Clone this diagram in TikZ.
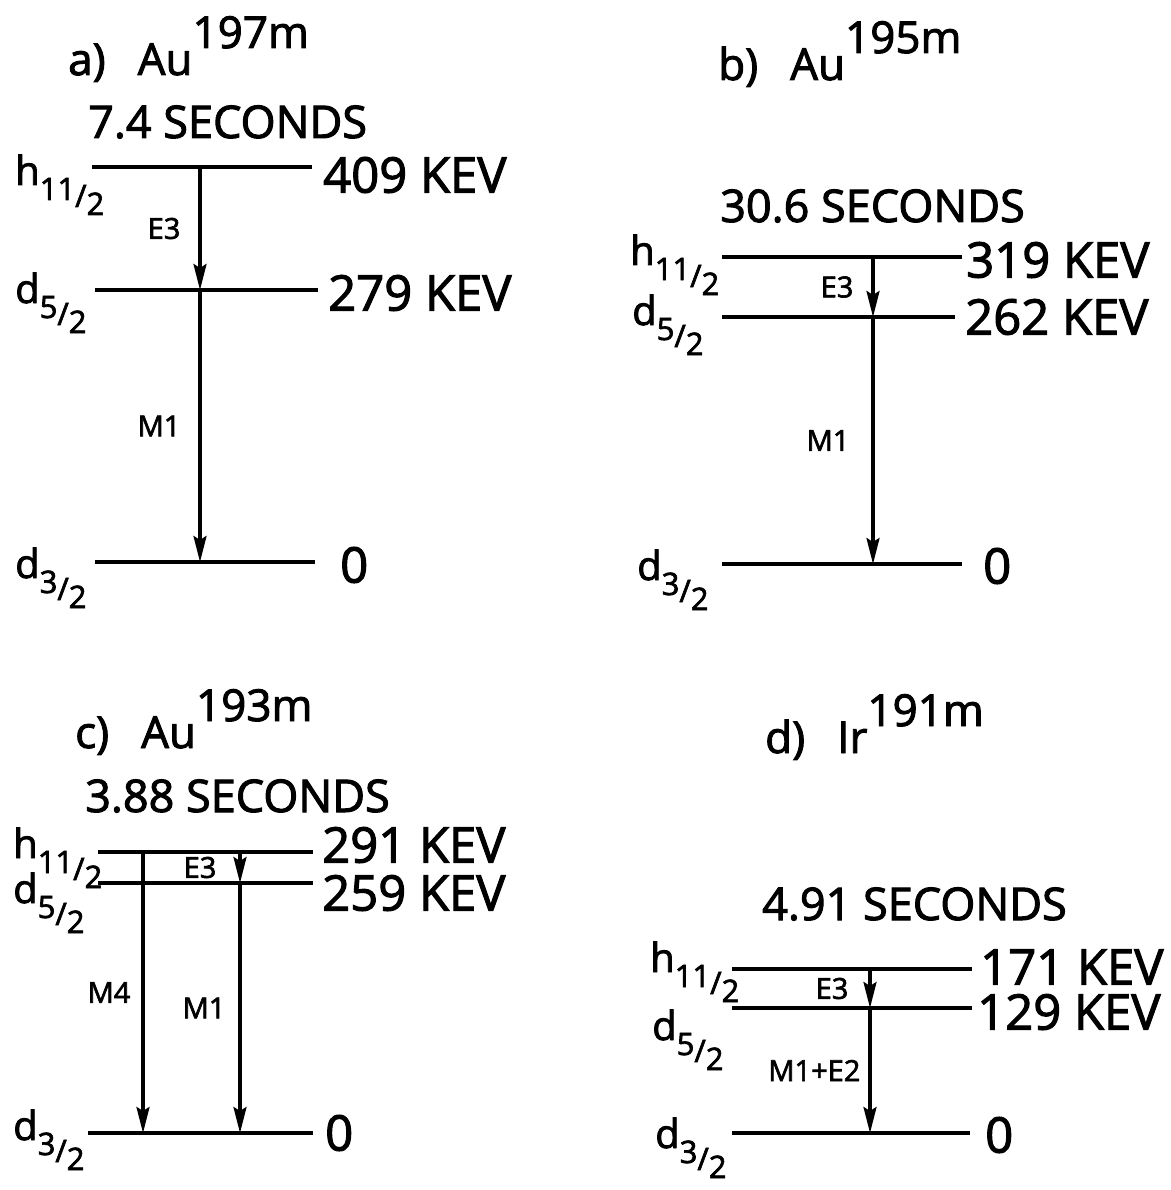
\documentclass[tikz,border=0pt]{standalone}
\usepackage{fontspec}
\setmainfont{Open Sans}[FakeBold=2.2]
\usetikzlibrary{arrows.meta,positioning}

\newcommand{\orb}[3]{#1\raisebox{-15pt}{\fontsize{31}{31}\selectfont #2\raisebox{-7pt}{/}\raisebox{-15pt}{#3}}}
\newcommand{\iso}[3]{#1)\hspace{32pt}#2\raisebox{27pt}{#3}}

\begin{document}
\begin{tikzpicture}[x=1pt,y=-1pt,>={Stealth[length=26pt,width=13pt,inset=4pt]},
  level/.style={line width=3.6pt},
  trans/.style={->,line width=3.2pt},
  kev/.style={inner sep=0pt,font=\fontsize{49}{49}\selectfont},
  orbital/.style={anchor=base west,inner sep=0pt,font=\fontsize{40}{40}\selectfont},
  mult/.style={inner sep=0pt,font=\fontsize{29}{29}\selectfont},
  life/.style={anchor=base west,inner sep=0pt,font=\fontsize{45}{45}\selectfont},
  title/.style={anchor=base west,inner sep=0pt,font=\fontsize{44}{44}\selectfont}]

\useasboundingbox (0,0) rectangle (1170,1190);

% a) Au 197m
\node[title] (a_title) at (68,75) {\iso{a}{Au}{197m}};
\node[life] (a_life) at (88,138) {7.4 SECONDS};
\coordinate (a_h) at (200,167);
\coordinate (a_d5) at (200,290);
\coordinate (a_d3) at (200,562);
\draw[level] (92,167) -- (312,167) coordinate (a_hr);
\draw[level] (95,290) -- (318,290) coordinate (a_d5r);
\draw[level] (95,562) -- (315,562) coordinate (a_d3r);
\node[kev,right=11pt of a_hr,yshift=-8pt] (a_hE) {409 KEV};
\node[kev,right=10pt of a_d5r,yshift=-3pt] (a_d5E) {279 KEV};
\node[kev,right=25pt of a_d3r,yshift=-3pt] (a_d3E) {0};
\node[orbital] (a_hL) at (15,185) {\orb{h}{11}{2}};
\node[orbital] (a_d5L) at (15,303) {\orb{d}{5}{2}};
\node[orbital] (a_d3L) at (15,578) {\orb{d}{3}{2}};
\draw[trans] (a_h) -- (a_d5) node[mult,midway,left=18pt] {E3};
\draw[trans] (a_d5) -- (a_d3) node[mult,midway,left=18pt] {M1};

% b) Au 195m
\node[title] (b_title) at (718,80) {\iso{b}{Au}{195m}};
\node[life] (b_life) at (720,222) {30.6 SECONDS};
\coordinate (b_h) at (873,257);
\coordinate (b_d5) at (873,317);
\coordinate (b_d3) at (873,564);
\draw[level] (722,257) -- (962,257) coordinate (b_hr);
\draw[level] (722,317) -- (955,317) coordinate (b_d5r);
\draw[level] (722,564) -- (962,564) coordinate (b_d3r);
\node[kev,right=4pt of b_hr,yshift=-3pt] (b_hE) {319 KEV};
\node[kev,right=10pt of b_d5r] (b_d5E) {262 KEV};
\node[kev,right=21pt of b_d3r,yshift=-2pt] (b_d3E) {0};
\node[orbital] (b_hL) at (630,265) {\orb{h}{11}{2}};
\node[orbital] (b_d5L) at (632,325) {\orb{d}{5}{2}};
\node[orbital] (b_d3L) at (637,580) {\orb{d}{3}{2}};
\draw[trans] (b_h) -- (b_d5) node[mult,midway,left=18pt] {E3};
\draw[trans] (b_d5) -- (b_d3) node[mult,midway,left=22pt] {M1};

% c) Au 193m
\node[title] (c_title) at (75,748) {\iso{c}{Au}{193m}};
\node[life] (c_life) at (85,812) {3.88 SECONDS};
\coordinate (c_h4) at (143,852);
\coordinate (c_d34) at (143,1133);
\coordinate (c_h) at (240,852);
\coordinate (c_d5) at (240,883);
\coordinate (c_d3) at (240,1133);
\draw[level] (98,852) -- (313,852) coordinate (c_hr);
\draw[level] (98,883) -- (313,883) coordinate (c_d5r);
\draw[level] (88,1133) -- (313,1133) coordinate (c_d3r);
\node[kev,right=9pt of c_hr,yshift=7pt] (c_hE) {291 KEV};
\node[kev,right=9pt of c_d5r,yshift=-10pt] (c_d5E) {259 KEV};
\node[kev,right=12pt of c_d3r] (c_d3E) {0};
\node[orbital] (c_hL) at (13,858) {\orb{h}{11}{2}};
\node[orbital] (c_d5L) at (13,903) {\orb{d}{5}{2}};
\node[orbital] (c_d3L) at (13,1140) {\orb{d}{3}{2}};
\draw[trans] (c_h4) -- (c_d34) node[mult,midway,left=11pt] {M4};
\draw[trans] (c_h) -- (c_d5) node[mult,midway,left=22pt] {E3};
\draw[trans] (c_d5) -- (c_d3) node[mult,midway,left=13pt] {M1};

% d) Ir 191m
\node[title] (d_title) at (765,753) {\iso{d}{Ir}{191m}};
\node[life] (d_life) at (762,920) {4.91 SECONDS};
\coordinate (d_h) at (870,969);
\coordinate (d_d5) at (870,1008);
\coordinate (d_d3) at (870,1133);
\draw[level] (732,969) -- (972,969) coordinate (d_hr);
\draw[level] (732,1008) -- (972,1008) coordinate (d_d5r);
\draw[level] (732,1133) -- (970,1133) coordinate (d_d3r);
\node[kev,right=8pt of d_hr,yshift=2pt] (d_hE) {171 KEV};
\node[kev,right=5pt of d_d5r,yshift=-4pt] (d_d5E) {129 KEV};
\node[kev,right=15pt of d_d3r,yshift=-2pt] (d_d3E) {0};
\node[orbital] (d_hL) at (650,972) {\orb{h}{11}{2}};
\node[orbital] (d_d5L) at (652,1040) {\orb{d}{5}{2}};
\node[orbital] (d_d3L) at (655,1148) {\orb{d}{3}{2}};
\draw[trans] (d_h) -- (d_d5) node[mult,midway,left=20pt] {E3};
\draw[trans] (d_d5) -- (d_d3) node[mult,midway,left=8pt] {M1+E2};
\end{tikzpicture}
\end{document}
